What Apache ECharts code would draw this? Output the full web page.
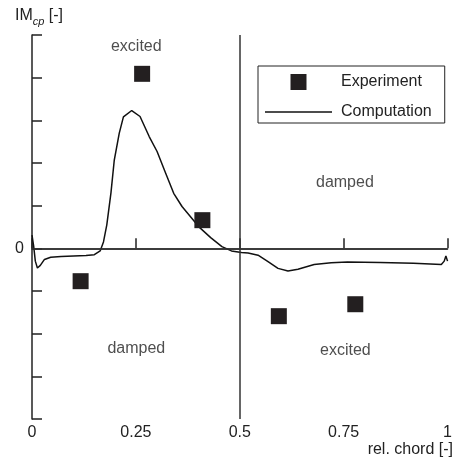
<!DOCTYPE html>
<html>
<head>
<meta charset="utf-8">
<script src="https://cdn.jsdelivr.net/npm/echarts@6/dist/echarts.min.js"></script>
<style>
  html, body { margin: 0; padding: 0; background: #fff; }
  #chart { width: 455px; height: 460px; }
</style>
</head>
<body>
<div id="chart"></div>
<script>
// Chord positions and unsteady pressure (imaginary part) values
const xTickLabels = ['0', '0.25', '0.5', '0.75', '1'];

const experimentX = [0.117, 0.265, 0.410, 0.594, 0.778];
const experimentY = [-0.77, 4.09, 0.66, -1.59, -1.31];

const computationX = [0.000, 0.004, 0.008, 0.013, 0.020, 0.030, 0.045, 0.070, 0.100, 0.130,
  0.150, 0.164, 0.172, 0.180, 0.190, 0.198, 0.210, 0.220, 0.240, 0.260,
  0.282, 0.301, 0.320, 0.341, 0.361, 0.380, 0.401, 0.430, 0.457, 0.480,
  0.504, 0.520, 0.544, 0.568, 0.592, 0.616, 0.640, 0.679, 0.720, 0.759,
  0.838, 0.918, 0.985, 0.992, 0.996, 1.000];
const computationY = [0.31, 0.05, -0.30, -0.46, -0.40, -0.26, -0.21, -0.19, -0.18, -0.17,
  -0.15, -0.06, 0.15, 0.55, 1.30, 2.07, 2.70, 3.08, 3.23, 3.09,
  2.62, 2.27, 1.80, 1.29, 0.98, 0.76, 0.51, 0.25, 0.04, -0.06,
  -0.10, -0.11, -0.16, -0.31, -0.47, -0.53, -0.49, -0.38, -0.34, -0.32,
  -0.33, -0.35, -0.38, -0.30, -0.18, -0.30];

// Stability region annotations
const regionNames = ['excited', 'damped', 'damped', 'excited'];
const regionX = [0.251, 0.753, 0.251, 0.754];
const regionY = [4.73, 1.53, -2.34, -2.39];

const ink = '#231f20';
const font = 'Liberation Sans, Arial, Helvetica, sans-serif';

// Legend glyphs: a centred square and a thin line inside a 67x16 box
const squareIcon = 'path://M0,0M67,16M25.5,0h16v16h-16z';
const lineIcon = 'path://M0,0M67,16M0,7.3h67v1.4h-67z';

const chart = echarts.init(document.getElementById('chart'), null, { renderer: 'canvas' });

chart.setOption({
  animation: false,
  backgroundColor: '#fff',
  textStyle: { fontFamily: font },
  grid: { left: 32, right: 3, top: 35, bottom: 41, containLabel: false },
  legend: {
    orient: 'vertical',
    left: 258,
    top: 66,
    padding: [8, 13, 3, 7],
    itemWidth: 67,
    itemHeight: 16,
    itemGap: 14,
    borderColor: '#222',
    borderWidth: 1,
    textStyle: { fontSize: 16, color: '#222', fontFamily: font, padding: [0, 0, 0, 4] },
    data: [
      { name: 'Experiment', icon: squareIcon, itemStyle: { color: ink, opacity: 1 } },
      { name: 'Computation', icon: lineIcon, itemStyle: { color: '#111', opacity: 1 } }
    ]
  },
  xAxis: {
    type: 'value',
    min: 0,
    max: 1,
    interval: 0.25,
    axisLine: { show: true, lineStyle: { color: '#222', width: 1.5 } },
    axisTick: { show: true, inside: true, length: 10, lineStyle: { color: '#222', width: 1.5 } },
    axisLabel: {
      fontSize: 16, color: '#222', margin: 6, fontFamily: font,
      formatter: (v) => xTickLabels[Math.round(v * 4)] ?? ''
    },
    splitLine: { show: false }
  },
  yAxis: {
    type: 'value',
    min: -4,
    max: 5,
    interval: 1,
    axisLine: { show: true, lineStyle: { color: '#222', width: 1.5 } },
    axisTick: { show: true, inside: true, length: 10, lineStyle: { color: '#222', width: 1.5 } },
    axisLabel: {
      fontSize: 16, color: '#222', margin: 8, fontFamily: font,
      formatter: (v) => (v === 0 ? '0' : '')
    },
    splitLine: { show: false }
  },
  graphic: [
    {
      type: 'text',
      left: 15,
      top: 8,
      style: {
        text: '{n|IM}{s|cp}{n| [-]}',
        fill: '#222',
        rich: {
          n: { fontSize: 16, fontFamily: font, fill: '#222', verticalAlign: 'bottom' },
          s: { fontSize: 11, fontStyle: 'italic', fontFamily: font, fill: '#222',
               verticalAlign: 'bottom', padding: [0, 0, -3, 0] }
        }
      }
    },
    {
      type: 'text',
      right: 2,
      top: 442,
      style: { text: 'rel. chord [-]', fontSize: 16, fontFamily: font, fill: '#222' }
    }
  ],
  series: [
    {
      name: 'Experiment',
      type: 'scatter',
      symbol: 'rect',
      symbolSize: 16,
      itemStyle: { color: ink, opacity: 1 },
      data: experimentX.map((x, i) => [x, experimentY[i]]),
      z: 5
    },
    {
      name: 'Computation',
      type: 'line',
      symbol: 'none',
      showSymbol: false,
      smooth: false,
      lineStyle: { color: '#111', width: 1.5 },
      itemStyle: { color: '#111' },
      data: computationX.map((x, i) => [x, computationY[i]]),
      markLine: {
        silent: true,
        symbol: ['none', 'none'],
        label: { show: false },
        lineStyle: { color: '#333', width: 1.5, type: 'solid' },
        data: [{ yAxis: 0 }, { xAxis: 0.5 }]
      },
      z: 4
    },
    {
      name: 'regions',
      type: 'scatter',
      symbolSize: 0,
      silent: true,
      label: {
        show: true,
        position: 'inside',
        fontSize: 16,
        fontFamily: font,
        color: '#222',
        formatter: (p) => p.name
      },
      data: regionNames.map((n, i) => ({ name: n, value: [regionX[i], regionY[i]] }))
    }
  ]
});
</script>
</body>
</html>
